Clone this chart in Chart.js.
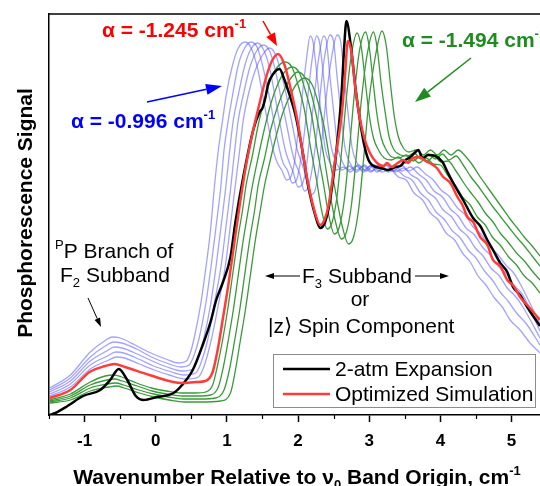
<!DOCTYPE html>
<html>
<head>
<meta charset="utf-8">
<script src="https://cdn.jsdelivr.net/npm/chart.js@4.4.1/dist/chart.umd.min.js"></script>
<style>
  html, body { margin: 0; padding: 0; background: #fff; }
  canvas { display: block; }
</style>
</head>
<body>
<canvas id="chart" width="540" height="486"></canvas>
<script>
// tick values of the wavenumber axis (cm-1 relative to band origin)
const majorTicks = [-1, 0, 1, 2, 3, 4, 5];
const minorTicks = [-1.5, -0.5, 0.5, 1.5, 2.5, 3.5, 4.5];

// measured spectrum, 2-atm expansion  [wavenumber, signal (arb.)]
const expt2atm = [[-1.49,0],[-1.41,2],[-1.24,9],[-1.02,19],[-0.78,25],[-0.64,35],[-0.52,46],[-0.40,35],[-0.28,19],[-0.17,15],[0.02,18],[0.25,22],[0.37,30],[0.52,45],[0.67,72],[0.77,93],[0.85,115],[0.94,132],[1.05,158],[1.12,193],[1.23,238],[1.37,285],[1.46,303],[1.50,307],[1.54,317],[1.58,331],[1.65,341],[1.74,346],[1.81,335],[1.89,318],[1.96,301],[2.06,265],[2.14,230],[2.24,200],[2.31,187],[2.38,193],[2.45,215],[2.54,265],[2.61,320],[2.65,370],[2.68,394],[2.74,370],[2.81,325],[2.88,290],[2.93,270],[2.99,255],[3.04,250],[3.16,247],[3.27,245],[3.37,248],[3.44,249],[3.51,255],[3.58,258],[3.65,263],[3.69,265],[3.75,257],[3.83,260],[3.93,259],[4.03,253],[4.10,243],[4.18,232],[4.32,215],[4.46,197],[4.56,189],[4.66,175],[4.74,165],[4.84,152],[4.94,143],[5.02,128],[5.12,120],[5.22,108],[5.40,89]];

// optimized simulation, alpha = -1.245 cm-1
const simOptimized = [[-1.49,17],[-1.20,25],[-0.93,43],[-0.71,49],[-0.58,51],[-0.43,48],[-0.09,40],[0.37,32],[0.57,33],[0.70,34],[0.80,43],[0.87,65],[0.94,95],[1.02,130],[1.09,165],[1.18,210],[1.27,250],[1.37,285],[1.47,315],[1.56,340],[1.64,355],[1.72,361],[1.81,350],[1.89,328],[1.99,295],[2.06,265],[2.14,232],[2.24,202],[2.31,190],[2.37,195],[2.43,210],[2.52,255],[2.62,305],[2.66,340],[2.70,374],[2.75,363],[2.80,330],[2.86,300],[2.93,277],[3.01,262],[3.11,252],[3.20,249],[3.25,252],[3.32,248],[3.40,252],[3.48,255],[3.55,252],[3.61,257],[3.71,258],[3.79,254],[3.85,252],[3.95,247],[4.04,238],[4.14,232],[4.24,218],[4.31,210],[4.38,198],[4.46,193],[4.56,178],[4.66,170],[4.74,155],[4.84,149],[4.94,135],[5.03,129],[5.12,118],[5.22,110],[5.40,95]];

// simulations with smaller |alpha| (alpha = -0.996 ... -1.196 cm-1)
const simBlue1 = [[-1.49,27],[-1.20,40],[-0.92,63],[-0.72,74],[-0.61,78],[-0.50,77],[-0.29,70],[-0.07,62],[0.14,56],[0.32,52],[0.43,54],[0.49,63],[0.54,77],[0.63,110],[0.70,145],[0.77,185],[0.82,225],[0.88,265],[0.94,295],[0.99,320],[1.08,350],[1.16,367],[1.26,373],[1.34,367],[1.43,347],[1.51,317],[1.58,290],[1.65,265],[1.71,252],[1.77,245],[1.84,235],[1.89,237],[1.95,253],[2.00,283],[2.06,320],[2.12,357],[2.17,379],[2.21,373],[2.27,337],[2.33,297],[2.38,267],[2.45,252],[2.54,245],[2.64,248],[2.73,243],[2.85,250],[2.96,244],[3.07,250],[3.18,243],[3.30,245],[3.41,238],[3.52,235],[3.63,222],[3.75,215],[3.86,202],[3.97,195],[4.08,182],[4.20,175],[4.31,162],[4.42,153],[4.53,139],[4.64,130],[4.76,117],[4.87,108],[4.98,95],[5.12,85],[5.26,72],[5.40,62]];
const simBlue2 = [[-1.49,25],[-1.20,37],[-0.92,58],[-0.71,69],[-0.59,73],[-0.48,72],[-0.27,66],[-0.06,58],[0.15,52],[0.35,48],[0.47,50],[0.54,60],[0.61,77],[0.70,110],[0.78,150],[0.85,190],[0.91,225],[0.96,265],[1.02,295],[1.08,320],[1.16,350],[1.25,367],[1.34,373],[1.43,367],[1.51,347],[1.60,317],[1.67,290],[1.74,265],[1.79,252],[1.85,245],[1.92,232],[1.98,235],[2.03,252],[2.09,283],[2.14,320],[2.20,357],[2.26,379],[2.30,373],[2.36,337],[2.41,297],[2.47,267],[2.54,252],[2.62,245],[2.72,249],[2.82,243],[2.93,250],[3.04,244],[3.16,250],[3.27,243],[3.38,245],[3.49,239],[3.60,235],[3.72,222],[3.83,215],[3.94,203],[4.05,196],[4.17,184],[4.28,177],[4.39,165],[4.50,157],[4.62,144],[4.73,135],[4.84,123],[4.95,114],[5.07,102],[5.21,91],[5.40,70]];
const simBlue3 = [[-1.49,23],[-1.20,34],[-0.92,54],[-0.69,64],[-0.58,68],[-0.47,67],[-0.26,61],[-0.05,54],[0.16,48],[0.37,44],[0.52,46],[0.59,55],[0.67,75],[0.77,110],[0.85,150],[0.92,190],[0.98,225],[1.04,265],[1.09,295],[1.16,320],[1.25,349],[1.33,365],[1.43,372],[1.51,366],[1.60,347],[1.68,317],[1.75,290],[1.82,265],[1.88,252],[1.93,243],[2.00,228],[2.06,231],[2.12,250],[2.17,282],[2.23,320],[2.29,357],[2.36,379],[2.40,373],[2.45,337],[2.51,297],[2.56,267],[2.63,252],[2.72,245],[2.82,249],[2.92,243],[3.03,250],[3.14,244],[3.25,250],[3.37,243],[3.48,247],[3.59,240],[3.70,235],[3.82,223],[3.93,217],[4.04,205],[4.16,198],[4.27,186],[4.38,179],[4.49,167],[4.60,159],[4.71,147],[4.83,139],[4.94,127],[5.05,119],[5.16,108],[5.40,77]];
const simBlue4 = [[-1.49,21],[-1.20,31],[-0.92,50],[-0.68,59],[-0.56,63],[-0.45,62],[-0.24,56],[-0.03,49],[0.18,44],[0.40,40],[0.56,42],[0.63,51],[0.73,75],[0.82,110],[0.92,150],[0.99,190],[1.05,225],[1.11,265],[1.16,295],[1.23,320],[1.32,347],[1.41,363],[1.51,370],[1.60,364],[1.68,345],[1.76,317],[1.84,290],[1.91,265],[1.96,252],[2.02,242],[2.09,224],[2.14,227],[2.20,247],[2.26,280],[2.31,320],[2.37,357],[2.45,380],[2.50,373],[2.55,337],[2.61,297],[2.66,267],[2.73,252],[2.82,245],[2.92,249],[3.02,243],[3.13,250],[3.24,244],[3.35,250],[3.46,244],[3.58,248],[3.69,241],[3.80,235],[3.91,224],[4.03,218],[4.14,206],[4.25,199],[4.36,187],[4.48,180],[4.59,168],[4.70,160],[4.81,149],[4.93,141],[5.04,129],[5.15,121],[5.40,84]];
const simBlue5 = [[-1.49,19],[-1.20,28],[-0.92,46],[-0.66,55],[-0.55,58],[-0.44,57],[-0.23,51],[-0.02,45],[0.19,40],[0.43,36],[0.60,38],[0.68,49],[0.78,75],[0.88,110],[0.98,150],[1.05,190],[1.11,225],[1.18,265],[1.23,295],[1.30,320],[1.40,345],[1.50,360],[1.60,367],[1.68,361],[1.76,343],[1.85,315],[1.92,290],[1.99,265],[2.05,252],[2.10,241],[2.17,220],[2.23,223],[2.29,245],[2.34,279],[2.40,320],[2.47,357],[2.55,380],[2.60,373],[2.65,337],[2.71,297],[2.76,267],[2.83,252],[2.92,245],[3.02,249],[3.11,243],[3.23,250],[3.34,244],[3.45,250],[3.56,244],[3.67,248],[3.79,241],[3.90,235],[4.01,225],[4.12,219],[4.24,207],[4.35,200],[4.46,188],[4.57,181],[4.69,169],[4.80,161],[4.92,150],[5.03,142],[5.13,130],[5.40,91]];

// simulations with larger |alpha| (alpha = -1.31 ... -1.494 cm-1)
const simGreen1 = [[-1.49,15],[-1.20,21],[-0.92,33],[-0.71,39],[-0.59,40],[-0.48,38],[-0.27,32],[-0.06,27],[0.15,24],[0.36,22],[0.56,22],[0.70,23],[0.80,30],[0.87,50],[0.94,75],[1.01,105],[1.08,140],[1.15,175],[1.22,205],[1.27,230],[1.36,260],[1.44,290],[1.53,315],[1.61,335],[1.71,348],[1.82,353],[1.92,347],[2.00,330],[2.09,305],[2.17,270],[2.26,235],[2.33,205],[2.41,186],[2.48,193],[2.55,220],[2.62,270],[2.69,325],[2.76,365],[2.83,382],[2.89,367],[2.95,330],[3.00,300],[3.06,277],[3.13,265],[3.21,257],[3.31,255],[3.41,258],[3.51,252],[3.60,257],[3.70,252],[3.80,257],[3.90,251],[4.00,250],[4.10,240],[4.21,230],[4.31,218],[4.42,210],[4.52,198],[4.63,190],[4.73,178],[4.84,170],[4.96,158],[5.07,150],[5.18,139],[5.29,132],[5.40,122]];
const simGreen2 = [[-1.49,14],[-1.20,19],[-0.92,30],[-0.69,35],[-0.58,36],[-0.47,34],[-0.26,29],[-0.05,24],[0.16,21],[0.37,19],[0.60,19],[0.77,20],[0.88,28],[0.95,48],[1.02,75],[1.09,105],[1.16,140],[1.23,175],[1.30,205],[1.36,230],[1.44,258],[1.53,287],[1.62,312],[1.71,330],[1.81,343],[1.92,348],[2.02,342],[2.10,325],[2.19,300],[2.27,265],[2.36,230],[2.43,200],[2.51,181],[2.58,188],[2.65,215],[2.72,265],[2.79,320],[2.86,363],[2.95,383],[3.00,368],[3.06,330],[3.11,300],[3.17,277],[3.24,265],[3.32,258],[3.42,257],[3.52,260],[3.62,254],[3.72,259],[3.82,254],[3.91,259],[4.01,253],[4.11,254],[4.21,245],[4.32,233],[4.42,223],[4.53,213],[4.63,202],[4.74,193],[4.84,182],[4.95,173],[5.07,162],[5.18,154],[5.29,144],[5.40,135]];
const simGreen3 = [[-1.49,13],[-1.20,17],[-0.92,27],[-0.68,31],[-0.56,32],[-0.45,30],[-0.24,25],[-0.03,21],[0.18,18],[0.39,16],[0.63,16],[0.84,17],[0.96,25],[1.04,47],[1.11,75],[1.18,105],[1.25,140],[1.32,175],[1.39,205],[1.44,230],[1.53,257],[1.61,284],[1.71,308],[1.81,326],[1.91,338],[2.00,343],[2.10,337],[2.19,320],[2.27,295],[2.36,260],[2.44,225],[2.52,195],[2.61,176],[2.68,183],[2.75,210],[2.82,260],[2.89,315],[2.97,360],[3.06,383],[3.11,368],[3.17,330],[3.23,300],[3.28,278],[3.35,265],[3.44,260],[3.54,259],[3.63,262],[3.73,256],[3.83,261],[3.93,256],[4.03,261],[4.12,255],[4.22,259],[4.32,250],[4.43,238],[4.53,229],[4.64,218],[4.74,208],[4.85,198],[4.96,188],[5.07,178],[5.18,169],[5.29,159],[5.40,149]];
const simGreen4 = [[-1.49,12],[-1.20,15],[-0.92,24],[-0.66,28],[-0.55,29],[-0.44,27],[-0.23,22],[-0.02,18],[0.19,15],[0.40,13],[0.63,13],[0.91,14],[1.05,22],[1.12,45],[1.19,75],[1.26,105],[1.33,140],[1.40,175],[1.47,205],[1.53,230],[1.61,255],[1.70,281],[1.79,303],[1.89,320],[1.99,332],[2.10,337],[2.20,330],[2.28,313],[2.37,287],[2.45,253],[2.54,218],[2.62,189],[2.71,171],[2.78,178],[2.85,205],[2.92,255],[2.99,310],[3.09,360],[3.18,384],[3.24,369],[3.30,330],[3.35,300],[3.41,278],[3.48,267],[3.56,263],[3.66,265],[3.76,260],[3.86,265],[3.96,260],[4.05,265],[4.15,260],[4.25,265],[4.35,259],[4.45,250],[4.56,238],[4.66,228],[4.77,217],[4.87,207],[4.98,196],[5.08,187],[5.19,177],[5.29,169],[5.40,159]];

const FONT = "'Liberation Sans', Arial, 'DejaVu Sans', sans-serif";
const BLUE = 'rgba(85, 85, 255, 0.55)';
const GREEN = '#3a9a3a';

const toXY = arr => arr.map(p => ({ x: p[0], y: p[1] }));

const datasets = [];
[simBlue1, simBlue2, simBlue3, simBlue4, simBlue5].forEach(d => {
    datasets.push({ data: toXY(d), borderColor: BLUE, borderWidth: 1.3, order: 4 });
});
[simGreen1, simGreen2, simGreen3, simGreen4].forEach(d => {
    datasets.push({ data: toXY(d), borderColor: GREEN, borderWidth: 1.3, order: 3 });
});
datasets.push({ label: '2-atm Expansion', data: toXY(expt2atm), borderColor: '#000', borderWidth: 2.5, order: 2 });
datasets.push({ label: 'Optimized Simulation', data: toXY(simOptimized), borderColor: '#ff3c3c', borderWidth: 2.5, order: 1 });
datasets.forEach(d => { d.showLine = true; d.pointRadius = 0; d.cubicInterpolationMode = 'monotone'; d.fill = false; });

// draws text runs with sub/superscripts
function drawRich(ctx, x, y, parts, size, weight, color, align) {
    const fontFor = p => `${weight} ${p.s ? Math.round(size * 0.62) : size}px ${FONT}`;
    let w = 0;
    parts.forEach(p => { ctx.font = fontFor(p); w += ctx.measureText(p.t).width; });
    let cx = align === 'center' ? x - w / 2 : x;
    ctx.fillStyle = color;
    ctx.textAlign = 'left';
    ctx.textBaseline = 'alphabetic';
    parts.forEach(p => {
        ctx.font = fontFor(p);
        const dy = p.s === 'sup' ? -size * 0.42 : p.s === 'sub' ? size * 0.22 : 0;
        ctx.fillText(p.t, cx, y + dy);
        cx += ctx.measureText(p.t).width;
    });
}

function arrow(ctx, x1, y1, x2, y2, color, lw, hl, hw) {
    const a = Math.atan2(y2 - y1, x2 - x1);
    const bx = x2 - hl * Math.cos(a), by = y2 - hl * Math.sin(a);
    ctx.strokeStyle = color;
    ctx.lineWidth = lw;
    ctx.beginPath();
    ctx.moveTo(x1, y1);
    ctx.lineTo(bx, by);
    ctx.stroke();
    ctx.fillStyle = color;
    ctx.beginPath();
    ctx.moveTo(x2, y2);
    ctx.lineTo(bx + hw / 2 * Math.sin(a), by - hw / 2 * Math.cos(a));
    ctx.lineTo(bx - hw / 2 * Math.sin(a), by + hw / 2 * Math.cos(a));
    ctx.closePath();
    ctx.fill();
}

const decor = {
    id: 'decor',
    afterDraw(chart) {
        const ctx = chart.ctx;
        const area = chart.chartArea;
        const xs = chart.scales.x;
        ctx.save();

        // top frame line
        ctx.strokeStyle = '#000';
        ctx.lineWidth = 1.5;
        ctx.beginPath();
        ctx.moveTo(area.left, area.top);
        ctx.lineTo(area.right, area.top);
        ctx.stroke();

        // minor ticks
        ctx.lineWidth = 1.2;
        minorTicks.forEach(v => {
            const px = Math.round(xs.getPixelForValue(v)) + 0.5;
            ctx.beginPath();
            ctx.moveTo(px, area.bottom);
            ctx.lineTo(px, area.bottom + 4);
            ctx.stroke();
        });

        // alpha labels and arrows
        drawRich(ctx, 102, 37, [{ t: 'α = -1.245 cm' }, { t: '-1', s: 'sup' }], 21, 'bold', '#ff0000');
        arrow(ctx, 263, 21, 277, 46, '#ff0000', 1.5, 13, 10);
        drawRich(ctx, 71, 128, [{ t: 'α = -0.996 cm' }, { t: '-1', s: 'sup' }], 21, 'bold', '#0000ff');
        arrow(ctx, 147, 102, 222, 86, '#0000ff', 1.5, 16, 11);
        drawRich(ctx, 402, 47, [{ t: 'α = -1.494 cm' }, { t: '-1', s: 'sup' }], 21, 'bold', '#1e8c1e');
        arrow(ctx, 471, 58, 415, 102, '#1e8c1e', 1.5, 16, 11);

        // P branch label
        drawRich(ctx, 55, 258, [{ t: 'P', s: 'sup' }, { t: 'P Branch of' }], 21, 'normal', '#000');
        drawRich(ctx, 60, 282, [{ t: 'F' }, { t: '2', s: 'sub' }, { t: ' Subband' }], 21, 'normal', '#000');
        arrow(ctx, 88, 298, 101, 327, '#000', 1, 9, 6);

        // F3 subband label
        drawRich(ctx, 302, 283, [{ t: 'F' }, { t: '3', s: 'sub' }, { t: ' Subband' }], 21, 'normal', '#000');
        arrow(ctx, 300, 276, 265, 276, '#000', 1, 9, 6);
        arrow(ctx, 415, 276, 449, 276, '#000', 1, 9, 6);
        drawRich(ctx, 360, 306, [{ t: 'or' }], 21, 'normal', '#000', 'center');
        drawRich(ctx, 268, 333, [{ t: '|z⟩ Spin Component' }], 21, 'normal', '#000');

        // legend
        ctx.fillStyle = '#fff';
        ctx.fillRect(273.5, 354.5, 262, 53);
        ctx.strokeStyle = '#8c8c8c';
        ctx.lineWidth = 1;
        ctx.strokeRect(273.5, 354.5, 262, 53);
        [['#000', '2-atm Expansion', 369], ['#ff3c3c', 'Optimized Simulation', 394]].forEach(([c, t, y]) => {
            ctx.strokeStyle = c;
            ctx.lineWidth = 2.5;
            ctx.beginPath();
            ctx.moveTo(283, y);
            ctx.lineTo(330, y);
            ctx.stroke();
            drawRich(ctx, 335, y + 7, [{ t: t }], 21, 'normal', '#000');
        });

        // axis titles
        drawRich(ctx, 297, 484, [{ t: 'Wavenumber Relative to ν' }, { t: '0', s: 'sub' }, { t: ' Band Origin, cm' }, { t: '-1', s: 'sup' }], 21, 'bold', '#000', 'center');
        ctx.translate(32, 213);
        ctx.rotate(-Math.PI / 2);
        drawRich(ctx, 0, 0, [{ t: 'Phosphorescence Signal' }], 21, 'bold', '#000', 'center');

        ctx.restore();
    }
};

new Chart(document.getElementById('chart').getContext('2d'), {
    type: 'scatter',
    data: { datasets },
    options: {
        responsive: false,
        animation: false,
        layout: { padding: { top: 14, left: 0, right: 0, bottom: 0 } },
        plugins: { legend: { display: false }, tooltip: { enabled: false } },
        scales: {
            x: {
                type: 'linear',
                min: -1.5,
                max: 5.4,
                afterBuildTicks: s => { s.ticks = majorTicks.map(v => ({ value: v })); },
                afterFit: s => { s.height = 71; },
                ticks: {
                    font: { family: FONT, size: 17, weight: 'bold' },
                    color: '#000',
                    padding: 9,
                    maxRotation: 0,
                    autoSkip: false
                },
                grid: { drawOnChartArea: false, drawTicks: true, tickLength: 7, tickColor: '#000', tickWidth: 1.5 },
                border: { display: true, color: '#000', width: 1.5 }
            },
            y: {
                min: 0,
                max: 401,
                ticks: { display: false },
                grid: { drawOnChartArea: false, drawTicks: false },
                border: { display: true, color: '#000', width: 1.5 },
                afterFit: s => { s.width = 49; }
            }
        }
    },
    plugins: [decor]
});
</script>
</body>
</html>
